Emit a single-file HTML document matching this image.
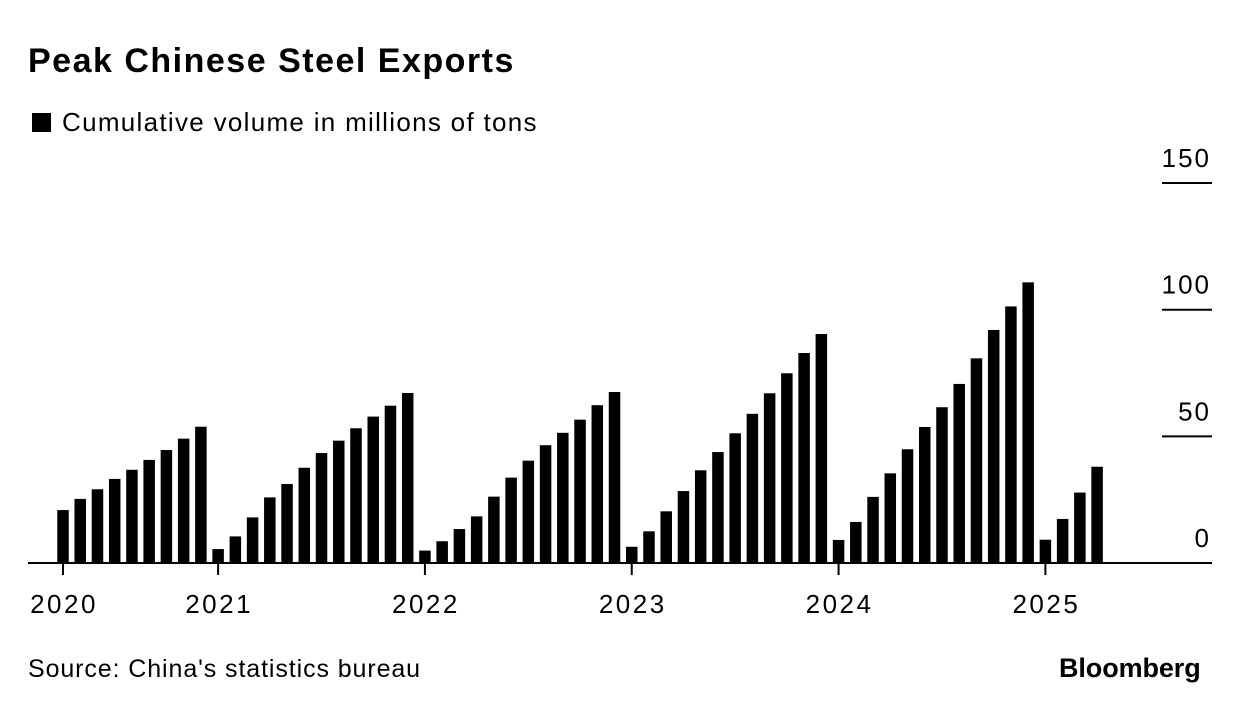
<!DOCTYPE html>
<html><head><meta charset="utf-8"><style>
body{margin:0;background:#fff;font-family:"Liberation Sans",Arial,sans-serif;color:#000}
#wrap{position:relative;width:1240px;height:712px;overflow:hidden}
.t{position:absolute;white-space:nowrap}
</style></head><body>
<div id="wrap">
<div class="t" style="left:28px;top:42px;font-size:34px;font-weight:bold;letter-spacing:1.5px">Peak Chinese Steel Exports</div>
<div class="t" style="left:32px;top:113px;width:19px;height:19px;background:#000"></div>
<div class="t" style="left:62px;top:107px;font-size:26px;letter-spacing:1.3px">Cumulative volume in millions of tons</div>
<svg id="chart" width="1240" height="712" style="position:absolute;left:0;top:0"></svg>
<div class="t" style="left:28px;top:655px;font-size:25px;letter-spacing:0.9px">Source: China's statistics bureau</div>
<div class="t" style="left:1059px;top:653px;font-size:27px;font-weight:bold;letter-spacing:-0.1px">Bloomberg</div>
</div>
<script>
const years=["2020","2021","2022","2023","2024","2025"];
const v2020=[20.9,25.3,29.1,33.2,36.8,40.7,44.6,49.1,53.8];
const v2021=[5.5,10.5,18.0,25.9,31.2,37.6,43.4,48.3,53.2,57.8,62.1,67.1];
const v2022=[4.9,8.6,13.4,18.4,26.2,33.7,40.4,46.5,51.4,56.6,62.3,67.5];
const v2023=[6.4,12.5,20.4,28.4,36.6,43.8,51.2,58.9,67.0,74.9,82.9,90.4];
const v2024=[9.1,16.2,26.1,35.4,44.9,53.7,61.5,70.7,80.8,92.0,101.3,110.8];
const v2025=[9.2,17.4,27.8,38.0];
const yTicks=[0,50,100,150];
const series=[v2020,v2021,v2022,v2023,v2024,v2025];
const NS="http://www.w3.org/2000/svg";
const svg=document.getElementById('chart');
const base=563,pxPer=2.533,x0=63,step=17.235,bw=11.5;
const y=v=>base-v*pxPer;
const x=i=>x0+i*step;
function mk(t,a){const e=document.createElementNS(NS,t);for(const k in a)e.setAttribute(k,a[k]);svg.appendChild(e);return e;}
yTicks.forEach(t=>{
  if(t>0){const l=mk('line',{x1:1162,x2:1212,y1:y(t),y2:y(t),stroke:'#000','stroke-width':2});
  
  }
  const tx=mk('text',{x:1211,y:y(t)-16,'text-anchor':'end','font-size':26,'letter-spacing':2,'font-family':'Liberation Sans, Arial, sans-serif'});
  tx.textContent=t;
  
  
});
let idx=0;
series.forEach((arr,yi)=>{
  const tx=x(idx);
  const tk=mk('line',{x1:tx,x2:tx,y1:base,y2:base+12,stroke:'#000','stroke-width':2});
  
  
  const lb=mk('text',{x:tx+1,y:base+50,'text-anchor':'middle','font-size':26,'letter-spacing':2.5,'font-family':'Liberation Sans, Arial, sans-serif'});
  lb.textContent=years[yi];
  
  
  arr.forEach((v,m)=>{
    const r=mk('rect',{x:x(idx)-bw/2,y:y(v),width:bw,height:base-y(v),fill:'#000'});
    
    
    idx++;
  });
});
const ax=mk('line',{x1:28,x2:1212,y1:base,y2:base,stroke:'#000','stroke-width':2});


</script>
</body></html>
